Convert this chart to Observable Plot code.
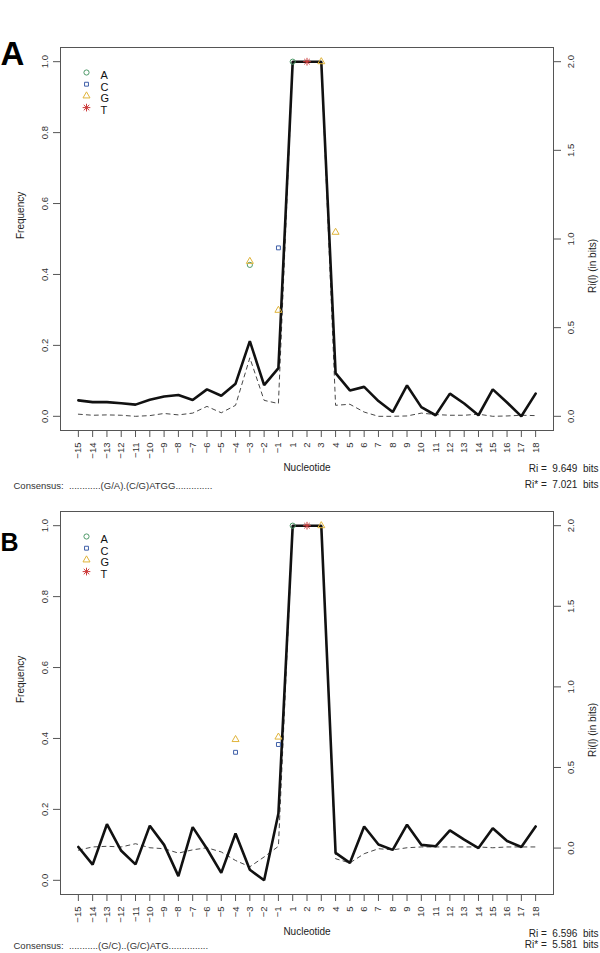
<!DOCTYPE html>
<html><head><meta charset="utf-8">
<script src="https://cdn.jsdelivr.net/npm/d3@7"></script>
<script src="https://cdn.jsdelivr.net/npm/@observablehq/plot@0.6"></script>
<style>
body{margin:0;background:#fff;font-family:"Liberation Sans",Arial,sans-serif;}
#wrap{position:relative;width:600px;height:953px;overflow:hidden;}
.panel{position:absolute;left:0;}
</style></head><body><div id="wrap"></div>
<script>
// Nucleotide positions (no 0)
const positions = [-15,-14,-13,-12,-11,-10,-9,-8,-7,-6,-5,-4,-3,-2,-1,1,2,3,4,5,6,7,8,9,10,11,12,13,14,15,16,17,18];
const bases = ["A","C","G","T"];
const baseColors = ["#4f9a6a","#3f5fa8","#e0b43a","#cc3b3b"];
const freqTicks = [0,0.2,0.4,0.6,0.8,1.0];
const bitTicks = [0,0.5,1.0,1.5,2.0];

// Panel A : Ri(l) (bits), solid and dashed
const solidA  = [0.090,0.080,0.080,0.074,0.066,0.094,0.112,0.120,0.092,0.152,0.116,0.184,0.424,0.176,0.272,2,2,2,0.244,0.146,0.166,0.086,0.024,0.174,0.052,0.006,0.128,0.072,0.006,0.152,0.078,0.000,0.128];
const dashedA = [0.012,0.006,0.008,0.006,0.000,0.004,0.016,0.008,0.018,0.056,0.020,0.062,0.330,0.090,0.072,2,2,2,0.062,0.068,0.024,0.000,0.000,0.002,0.018,0.010,0.006,0.006,0.012,0.000,0.002,0.006,0.004];
const ptsA_pos  = [1,2,3,-3,-3,-1,-1,4];
const ptsA_base = ["A","T","G","G","A","C","G","G"];
const ptsA_freq = [1,1,1,0.437,0.427,0.475,0.299,0.519];
const consensusA = "Consensus:  ............(G/A).(C/G)ATGG..............";
const riA = "Ri =  9.649  bits";
const riStarA = "Ri* =  7.021  bits";

// Panel B
const solidB  = [0.007,-0.103,0.148,-0.017,-0.101,0.139,0.020,-0.174,0.130,-0.004,-0.154,0.090,-0.134,-0.200,0.214,2,2,2,-0.030,-0.092,0.134,0.022,-0.011,0.145,0.020,0.011,0.110,0.053,0.000,0.123,0.044,0.007,0.134];
const dashedB = [-0.013,0.007,0.011,0.007,0.027,0.002,-0.004,-0.031,-0.011,0.002,-0.024,-0.077,-0.116,-0.055,0.011,2,2,2,-0.066,-0.092,-0.035,-0.004,-0.011,0.002,0.007,0.007,0.007,0.007,0.007,0.002,0.007,0.007,0.007];
const ptsB_pos  = [1,2,3,-4,-4,-1,-1];
const ptsB_base = ["A","T","G","G","C","G","C"];
const ptsB_freq = [1,1,1,0.397,0.361,0.404,0.383];
const consensusB = "Consensus:  ...........(G/C)..(G/C)ATG...............";
const riB = "Ri =  6.596  bits";
const riStarB = "Ri* =  5.581  bits";

const fmtPos = p => p < 0 ? "\u2212" + (-p) : String(p);
const nb = s => s.replace(/ /g, "\u00a0");

function panel(cfg) {
  const rmin = cfg.rmin, rmax = 2;
  const toF = b => (b - rmin) / (rmax - rmin);
  const toB = f => rmin + f * (rmax - rmin);
  const lineData = positions.map((p, i) => ({i, solid: toF(cfg.solid[i]), dashed: toF(cfg.dashed[i])}));
  const pts = cfg.pos.map((p, k) => ({i: positions.indexOf(p), base: cfg.base[k], f: cfg.freq[k]}));
  const dotMarks = [];
  bases.forEach((b, bi) => {
    const d = pts.filter(q => q.base === b);
    const col = baseColors[bi];
    const syms = b === "T" ? ["plus", "times"] : [b === "A" ? "circle" : b === "C" ? "square" : "triangle"];
    syms.forEach(s => {
      dotMarks.push(Plot.dot(d, {x: "i", y: "f", symbol: s, stroke: col, fill: "none", r: s === "square" ? 2.2 : 2.6, strokeWidth: 1}));
      dotMarks.push(Plot.dot([b], {frameAnchor: "top-left", dx: 26, dy: 25 + bi * 11.7, symbol: s, stroke: col, fill: "none", r: s === "square" ? 2.2 : 2.6, strokeWidth: 1}));
    });
    dotMarks.push(Plot.text([b], {frameAnchor: "top-left", dx: 40, dy: 23.5 + bi * 11.7, textAnchor: "start", fontSize: 11, fill: "#111"}));
  });
  return Plot.plot({
    width: 600, height: cfg.height,
    marginTop: cfg.mt, marginBottom: cfg.mb, marginLeft: 60, marginRight: 47,
    style: {fontFamily: "Liberation Sans, Arial, sans-serif", fontSize: "9.5px", color: "#333", background: "white"},
    x: {type: "linear", domain: [-1.25, 33.25]},
    y: {domain: [-0.04, 1.04]},
    marks: [
      Plot.frame({stroke: "#555", strokeWidth: 1}),
      Plot.axisX({ticks: d3.range(positions.length), tickFormat: i => fmtPos(positions[i]), tickSize: 7, tickPadding: 5, tickRotate: -90, label: null, stroke: "#555"}),
      Plot.axisY({anchor: "left", ticks: freqTicks, tickFormat: d3.format(".1f"), tickSize: 7, tickPadding: 6, tickRotate: -90, label: null, stroke: "#555"}),
      Plot.axisY({anchor: "right", ticks: bitTicks.map(toF), tickFormat: f => toB(f).toFixed(1), tickSize: 7, tickPadding: 7, tickRotate: -90, lineAnchor: "top", label: null, stroke: "#555"}),
      Plot.line(lineData, {x: "i", y: "dashed", stroke: "#333", strokeWidth: 0.9, strokeDasharray: "4,4"}),
      Plot.line(lineData, {x: "i", y: "solid", stroke: "#111", strokeWidth: 2.6, strokeLinejoin: "miter"}),
      ...dotMarks,
      Plot.text(["Frequency"], {frameAnchor: "left", dx: -40, rotate: -90, fontSize: 10, fill: "#222"}),
      Plot.text(["Ri(l) (in bits)"], {frameAnchor: "right", dx: 39, rotate: -90, fontSize: 10, fill: "#222"}),
      Plot.text(["Nucleotide"], {frameAnchor: "bottom", dy: 40, fontSize: 10, fill: "#222"}),
      Plot.text([nb(cfg.consensus)], {frameAnchor: "bottom-left", dx: -47, dy: cfg.consDy, textAnchor: "start", fontSize: 9.5, fill: "#333"}),
      Plot.text([nb(cfg.ri)], {frameAnchor: "bottom-right", dx: 45, dy: cfg.riDy, textAnchor: "end", fontSize: 10, fill: "#222"}),
      Plot.text([nb(cfg.riStar)], {frameAnchor: "bottom-right", dx: 45, dy: cfg.consDy - 1, textAnchor: "end", fontSize: 10, fill: "#222"}),
      Plot.text([cfg.letter], {frameAnchor: "top-left", dx: -60, dy: cfg.letterDy, textAnchor: "start", fontSize: cfg.letterSize, fontWeight: "bold", fill: "#000"})
    ]
  });
}

const wrap = document.getElementById("wrap");
const specs = [
  {top: 0, height: 495, mt: 47, mb: 65, rmin: 0, solid: solidA, dashed: dashedA, pos: ptsA_pos, base: ptsA_base, freq: ptsA_freq,
   consensus: consensusA, ri: riA, riStar: riStarA, consDy: 58, riDy: 41, letter: "A", letterDy: -6, letterSize: 33},
  {top: 495, height: 458, mt: 16, mb: 59, rmin: -0.2, solid: solidB, dashed: dashedB, pos: ptsB_pos, base: ptsB_base, freq: ptsB_freq,
   consensus: consensusB, ri: riB, riStar: riStarB, consDy: 54, riDy: 42, letter: "B", letterDy: 22, letterSize: 25}
];
specs.forEach(s => {
  const div = document.createElement("div");
  div.className = "panel";
  div.style.top = s.top + "px";
  div.appendChild(panel(s));
  wrap.appendChild(div);
});
</script></body></html>
